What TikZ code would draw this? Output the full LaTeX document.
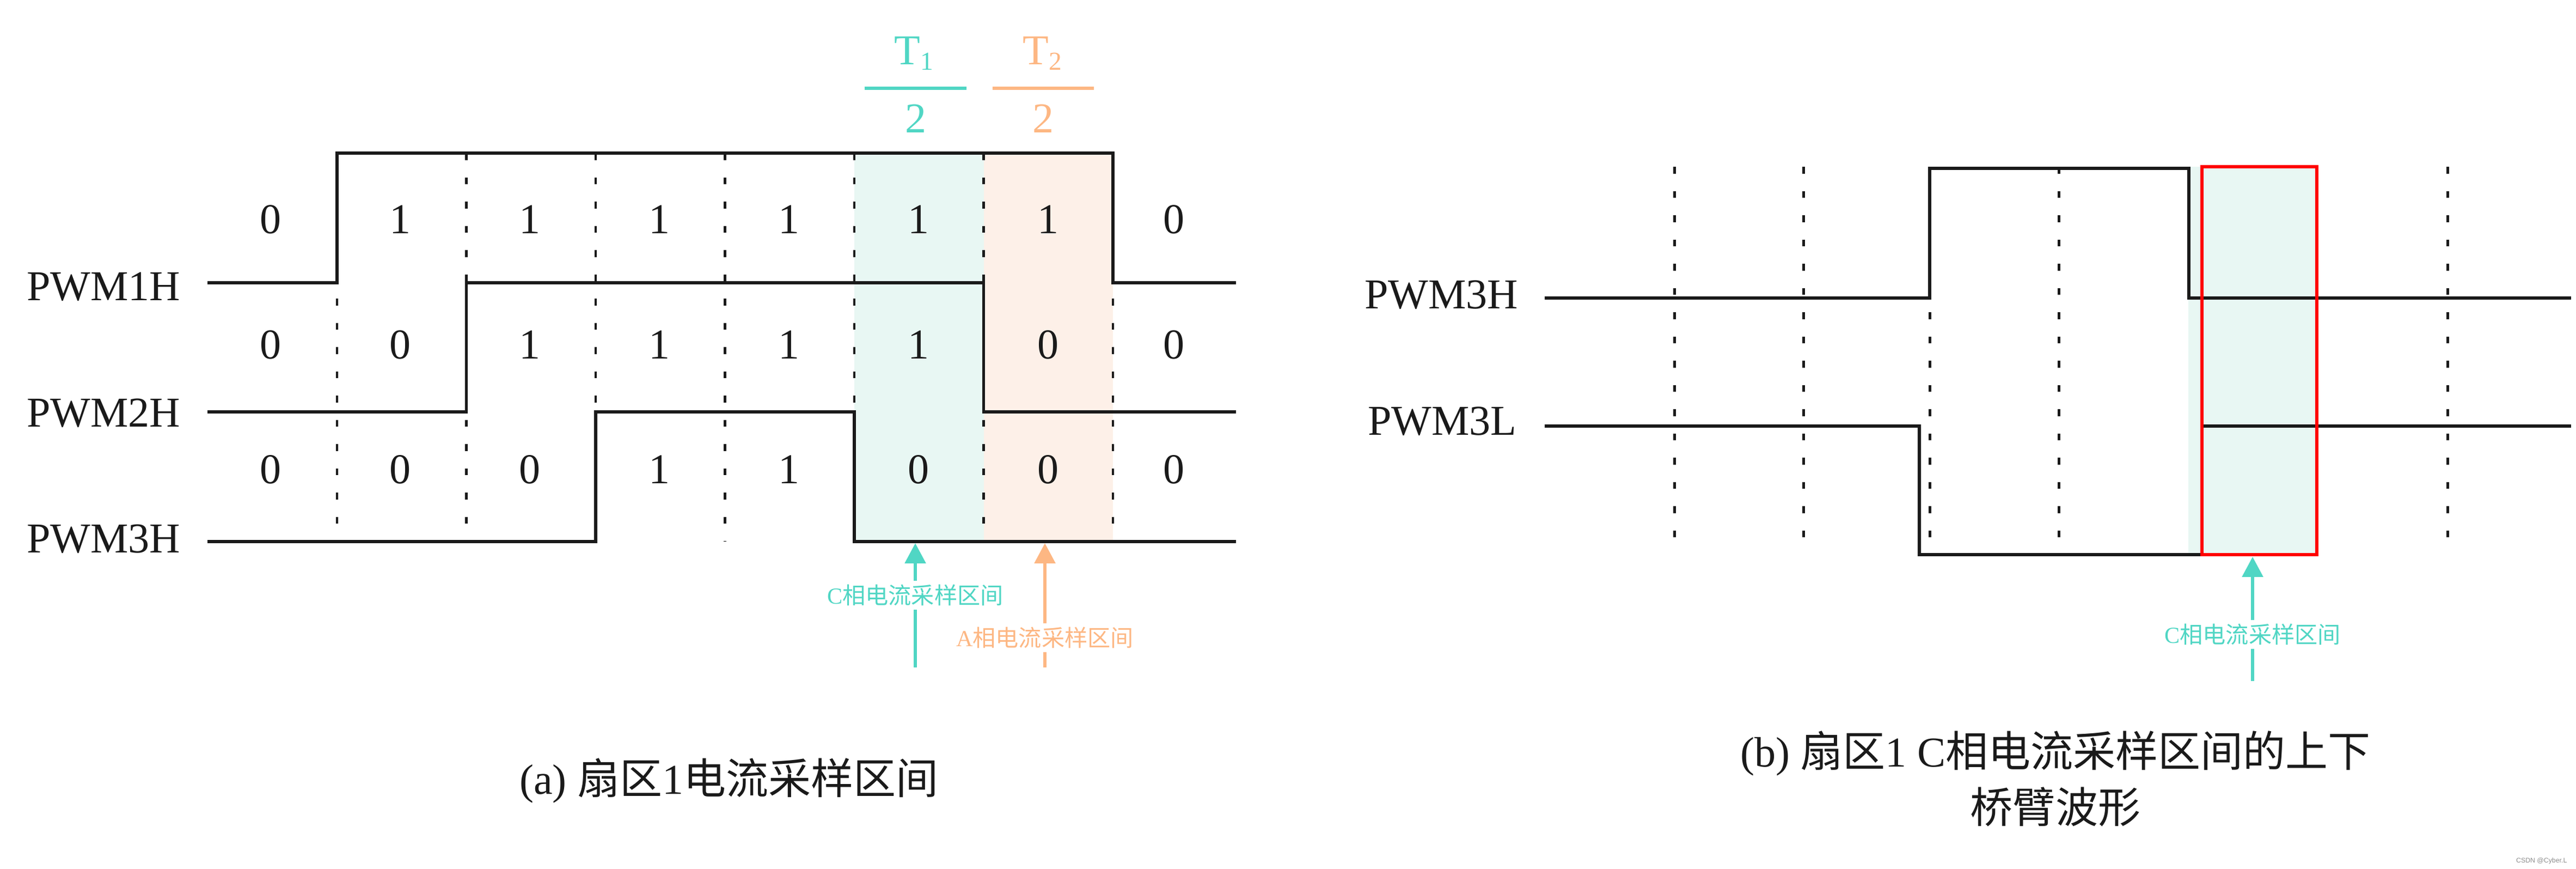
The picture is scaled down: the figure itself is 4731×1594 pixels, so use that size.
\documentclass[tikz,border=0pt]{standalone}
\usepackage{fontspec}
\setmainfont{Liberation Serif}
\newfontfamily\cjk{Noto Sans CJK SC}
\newfontfamily\wmfont{Liberation Sans}
\usetikzlibrary{arrows.meta}
\definecolor{tealc}{RGB}{80,214,196}
\definecolor{orangec}{RGB}{253,183,131}
\definecolor{fillg}{RGB}{232,247,243}
\definecolor{fillo}{RGB}{253,240,232}
\definecolor{linecol}{RGB}{26,26,26}
\definecolor{wmgray}{RGB}{140,140,140}
\definecolor{redc}{RGB}{255,0,0}
\begin{document}
\begin{tikzpicture}[x=0.01cm,y=-0.01cm,
  wave/.style={line width=1.55pt, draw=linecol, line join=miter},
  gridline/.style={line width=1.4pt, draw=linecol, dash pattern=on 0.125cm off 0.32cm},
  lbl/.style={font=\fontsize{22.2}{26}\selectfont, text=linecol, inner sep=0pt},
  dig/.style={font=\fontsize{22.2}{26}\selectfont, text=linecol, inner sep=0pt, anchor=base},
  frac/.style={font=\fontsize{22.2}{26}\selectfont, inner sep=0pt, anchor=base},
  fracbar/.style={line width=0.06cm},
  samp/.style={font=\fontsize{12}{14}\selectfont, fill=white, inner xsep=0.04cm, inner ysep=0.07cm},
  sarrow/.style={line width=1.55pt, -{Triangle[length=0.37cm,width=0.38cm]}},
  capt/.style={font=\fontsize{22.2}{29}\selectfont, text=linecol, inner sep=0pt, anchor=base},
]
\useasboundingbox (0,0) rectangle (4731,1594);

% ---------------- panel (a) ----------------
\fill[fillg] (1569,281) rectangle (1806.5,994);
\fill[fillo] (1806.5,281) rectangle (2044,994);

\foreach \x in {619,856.5,1094,1331.5,1569,1806.5,2044}
  \draw[gridline] (\x,281) -- (\x,994);

\draw[wave] (381,519) -- (619,519) -- (619,281) -- (2044,281) -- (2044,519) -- (2270,519);
\draw[wave] (381,756) -- (856.5,756) -- (856.5,519) -- (1806.5,519) -- (1806.5,756) -- (2270,756);
\draw[wave] (381,994) -- (1094,994) -- (1094,756) -- (1569,756) -- (1569,994) -- (2270,994);

\node[lbl, anchor=base east] (la1) at (332,551) {PWM1H};
\node[lbl, anchor=base east] (la2) at (332,783) {PWM2H};
\node[lbl, anchor=base east] (la3) at (332,1014) {PWM3H};

\foreach \v [count=\i] in {0,1,1,1,1,1,1,0}
  \node[dig] (ra\i) at ({497+238*(\i-1)-(\i==8)*7},428) {\v};
\foreach \v [count=\i] in {0,0,1,1,1,1,0,0}
  \node[dig] (rb\i) at ({497+238*(\i-1)-(\i==8)*7},658) {\v};
\foreach \v [count=\i] in {0,0,0,1,1,0,0,0}
  \node[dig] (rc\i) at ({497+238*(\i-1)-(\i==8)*7},887) {\v};

% T1/2 and T2/2
\node[frac, text=tealc] (tnum1) at (1678,119) {T\raisebox{-0.09cm}{\fontsize{13.5}{14}\selectfont 1}};
\draw[fracbar, tealc] (1587.5,162) -- (1775,162);
\node[frac, text=tealc] (tden1) at (1682,244) {2};
\node[frac, text=orangec] (tnum2) at (1914,119) {T\raisebox{-0.09cm}{\fontsize{13.5}{14}\selectfont 2}};
\draw[fracbar, orangec] (1823,162) -- (2009,162);
\node[frac, text=orangec] (tden2) at (1916,244) {2};

% sampling arrows (a)
\coordinate (gtail) at (1681,1225);
\coordinate (gtip) at (1681,997);
\draw[sarrow, tealc] (gtail) -- node[samp, text=tealc, pos=0.58] (glab) {C{\cjk 相电流采样区间}} (gtip);
\coordinate (otail) at (1919,1225);
\coordinate (otip) at (1919,997);
\draw[sarrow, orangec] (otail) -- node[samp, text=orangec, pos=0.24] (olab) {A{\cjk 相电流采样区间}} (otip);

\node[capt] (capa) at (1339,1457) {(a) {\cjk 扇区}1{\cjk 电流采样区间}};

% ---------------- panel (b) ----------------
\fill[fillg] (4019,306) rectangle (4255,1018);
\foreach \x in {3075,3312,3544,3781,4495}
  \draw[gridline] (\x,306) -- (\x,1018);

\draw[wave] (2837,547) -- (3544,547) -- (3544,309) -- (4020,309) -- (4020,547) -- (4722,547);
\draw[wave] (2837,782) -- (3525,782) -- (3525,1018) -- (4044,1018) -- (4044,782) -- (4722,782);
\draw[redc, line width=0.06cm] (4044,306) rectangle (4255,1018);

\node[lbl, anchor=base east] (lb1) at (2789,566) {PWM3H};
\node[lbl, anchor=base east] (lb2) at (2786,798.5) {PWM3L};

\coordinate (btail) at (4137,1250);
\coordinate (btip) at (4137,1022);
\draw[sarrow, tealc] (btail) -- node[samp, text=tealc, pos=0.377] (blab) {C{\cjk 相电流采样区间}} (btip);

\node[capt] (capb1) at (3775,1407) {(b) {\cjk 扇区}1 C{\cjk 相电流采样区间的上下}};
\node[capt] (capb2) at (3775,1510) {{\cjk 桥臂波形}};

\node[font={\wmfont\fontsize{3.5}{4}\selectfont}, text=wmgray, anchor=base east, inner sep=0pt] (wm) at (4715,1583) {CSDN @Cyber.L};
\end{tikzpicture}
\end{document}
